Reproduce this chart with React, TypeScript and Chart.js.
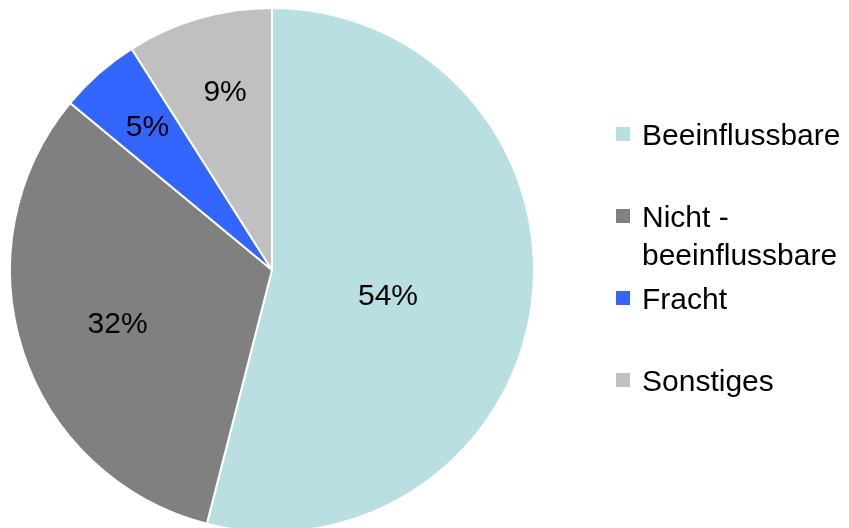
import React, { useEffect, useRef } from "react";
import { Chart, registerables } from "chart.js";

Chart.register(...registerables);

const categories = ["Beeinflussbare", "Nicht - beeinflussbare", "Fracht", "Sonstiges"];
const legendLines = [["Beeinflussbare"], ["Nicht -", "beeinflussbare"], ["Fracht"], ["Sonstiges"]];
const shares = [54, 32, 5, 9];
const colors = ["#B9DFE2", "#808080", "#3366FF", "#C0C0C0"];

// label placement style (fraction of radius, angle nudge in degrees)
const labelRadius = [0.452, 0.622, 0.729, 0.71];
const labelAngleNudge = [4.5, -0.6, 0.7, 1.6];

const FONT = '30px "Liberation Sans", Arial, Helvetica, sans-serif';

const sliceLabels = {
  id: "sliceLabels",
  afterDatasetsDraw(chart: any) {
    const ctx = chart.ctx;
    const meta = chart.getDatasetMeta(0);
    ctx.save();
    ctx.font = FONT;
    ctx.fillStyle = "#000000";
    ctx.textAlign = "center";
    ctx.textBaseline = "alphabetic";
    meta.data.forEach((arc: any, i: number) => {
      const p = arc.getProps(["x", "y", "startAngle", "endAngle", "outerRadius"], true);
      const mid = (p.startAngle + p.endAngle) / 2 + (labelAngleNudge[i] * Math.PI) / 180;
      const r = p.outerRadius * labelRadius[i];
      const tx = p.x + Math.cos(mid) * r;
      const ty = p.y + Math.sin(mid) * r;
      ctx.fillText(shares[i] + "%", tx, ty + 10.7);
    });
    ctx.restore();
  },
};

const sideLegend = {
  id: "sideLegend",
  afterDraw(chart: any) {
    const ctx = chart.ctx;
    ctx.save();
    ctx.font = FONT;
    ctx.textAlign = "left";
    ctx.textBaseline = "alphabetic";
    const boxX = 616;
    const box = 14;
    const textX = 642;
    legendLines.forEach((lines, i) => {
      const base = 145 + i * 82;
      ctx.fillStyle = colors[i];
      ctx.fillRect(boxX, base - 11 - box / 2, box, box);
      ctx.fillStyle = "#000000";
      lines.forEach((ln, j) => {
        ctx.fillText(ln, textX, base + j * 38);
      });
    });
    ctx.restore();
  },
};

export default function App() {
  const ref = useRef<HTMLCanvasElement>(null);
  useEffect(() => {
    if (!ref.current) return;
    const chart = new Chart(ref.current, {
      type: "pie",
      data: {
        labels: categories,
        datasets: [
          {
            data: shares,
            backgroundColor: colors,
            borderColor: "#FFFFFF",
            borderWidth: 2,
            hoverOffset: 0,
            radius: 262,
          } as any,
        ],
      },
      options: {
        responsive: false,
        animation: false,
        layout: { padding: { left: 12, right: 317, top: 12, bottom: 0 } },
        plugins: {
          legend: { display: false },
          tooltip: { enabled: false },
        },
      },
      plugins: [sliceLabels, sideLegend],
    });
    return () => chart.destroy();
  }, []);
  return (
    <div style={{ position: "absolute", left: 0, top: 0, width: 849, height: 528, overflow: "hidden", background: "#fff" }}>
      <canvas ref={ref} width={849} height={528} style={{ display: "block", width: 849, height: 528 }} />
    </div>
  );
}
